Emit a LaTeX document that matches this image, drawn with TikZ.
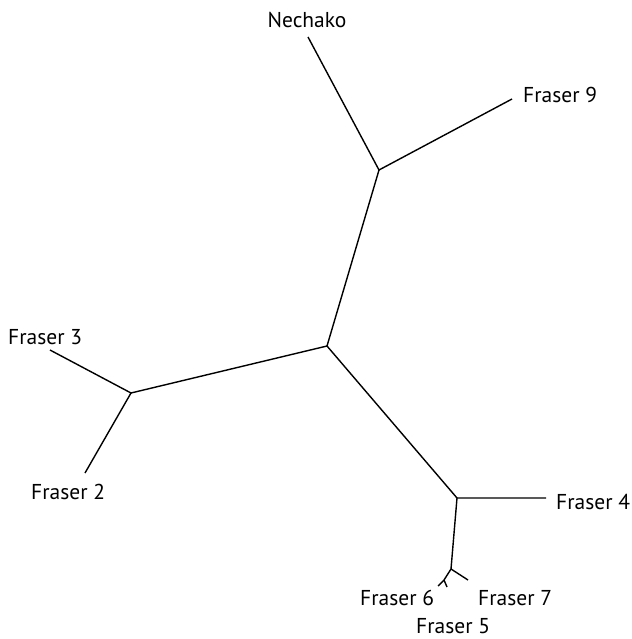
\documentclass[tikz,border=0pt]{standalone}
\usepackage{fontspec}
\setmainfont{PT Sans}
\begin{document}
\begin{tikzpicture}[x=1pt,y=-1pt,
  branch/.style={line width=1.4pt},
  lbl/.style={font=\fontsize{21.5}{23}\selectfont,inner sep=0pt}]
\useasboundingbox (0,0) rectangle (631,639);
% internal nodes
\coordinate (top) at (379,170);
\coordinate (mid) at (327,346);
\coordinate (lft) at (131,393);
\coordinate (rgt) at (457,498);
\coordinate (low) at (451,569);
\coordinate (fk) at (444,580);
% leaf ends
\coordinate (eN) at (308,37);
\coordinate (e9) at (512,99);
\coordinate (e3) at (50,350);
\coordinate (e2) at (85,473);
\coordinate (e4) at (546,498);
\coordinate (e7) at (468,580);
\coordinate (e6) at (438,586);
\coordinate (e5) at (447,587);
% labels
\node[lbl] (lN) at (307,20) {Nechako};
\node[lbl,anchor=west] (l9) at (523,95) {Fraser 9};
\node[lbl,anchor=west] (l3) at (8,337) {Fraser 3};
\node[lbl,anchor=west] (l2) at (31,492) {Fraser 2};
\node[lbl,anchor=west] (l4) at (556,502) {Fraser 4};
\node[lbl,anchor=west] (l6) at (360,598) {Fraser 6};
\node[lbl,anchor=west] (l7) at (478,598) {Fraser 7};
\node[lbl,anchor=west] (l5) at (416,626) {Fraser 5};
% branches
\draw[branch] (eN) -- (top) -- (e9);
\draw[branch] (top) -- (mid) -- (lft);
\draw[branch] (e3) -- (lft) -- (e2);
\draw[branch] (mid) -- (rgt) -- (e4);
\draw[branch] (rgt) -- (low) -- (e7);
\draw[branch] (low) -- (fk) -- (e6);
\draw[branch] (fk) -- (e5);
\end{tikzpicture}
\end{document}
